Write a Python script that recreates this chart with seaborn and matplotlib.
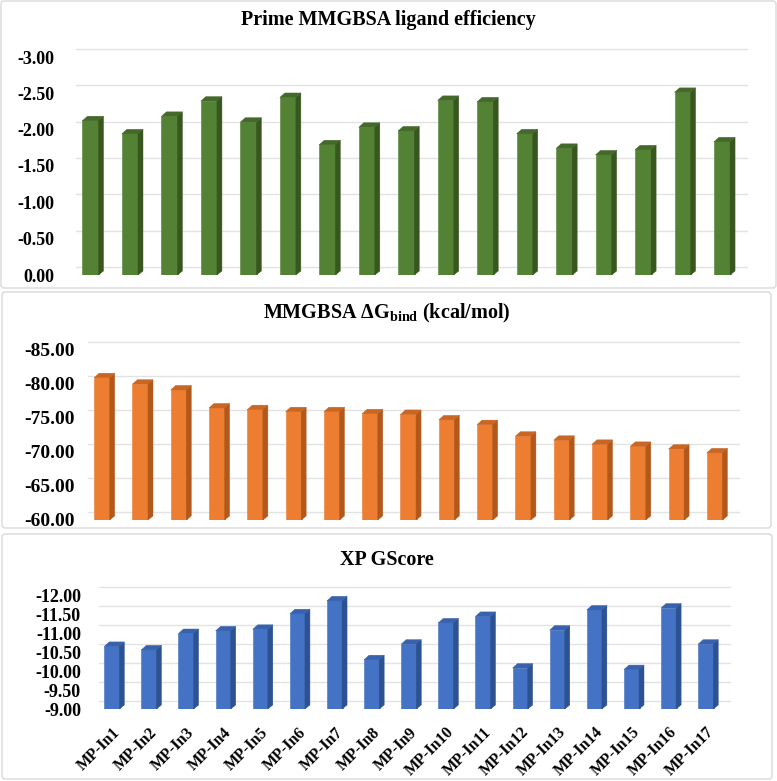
import matplotlib
matplotlib.use("Agg")
import numpy as np
import matplotlib.pyplot as plt
import matplotlib.transforms as mtransforms
from matplotlib.patches import Polygon, FancyBboxPatch
import seaborn as sns

# data
labels = ["MP-In1", "MP-In2", "MP-In3", "MP-In4", "MP-In5", "MP-In6", "MP-In7", "MP-In8", "MP-In9",
          "MP-In10", "MP-In11", "MP-In12", "MP-In13", "MP-In14", "MP-In15", "MP-In16", "MP-In17"]
ligand_eff = [-2.13, -1.95, -2.19, -2.40, -2.11, -2.45, -1.80, -2.04, -1.99,
              -2.41, -2.39, -1.95, -1.75, -1.66, -1.73, -2.52, -1.84]
dg_bind = [-81.0, -80.05, -79.2, -76.55, -76.3, -76.0, -76.0, -75.7, -75.6,
           -74.8, -74.1, -72.4, -71.8, -71.2, -70.9, -70.5, -69.95]
xp_gscore = [-10.66, -10.57, -11.0, -11.07, -11.11, -11.52, -11.86, -10.31, -10.72,
             -11.28, -11.45, -10.09, -11.09, -11.62, -10.05, -11.67, -10.72]

sns.set_style("white")
plt.rcParams["font.family"] = ["Liberation Serif", "DejaVu Serif"]
plt.rcParams["font.weight"] = "bold"
plt.rcParams["mathtext.fontset"] = "custom"
plt.rcParams["mathtext.rm"] = "Liberation Serif:bold"
plt.rcParams["mathtext.bf"] = "Liberation Serif:bold"

W, H = 777, 781
fig = plt.figure(figsize=(W / 100, H / 100), dpi=100)


def px_box(left, top, right, bottom):
    return [left / W, 1 - bottom / H, (right - left) / W, (bottom - top) / H]


def add_frame(left, top, right, bottom):
    fig.patches.append(FancyBboxPatch((left / W, 1 - bottom / H), (right - left) / W, (bottom - top) / H,
                                      boxstyle="round,pad=0,rounding_size=0.004", transform=fig.transFigure,
                                      fc="none", ec="#d9d9d9", lw=1.0, zorder=-1))


def panel(box, values, ylim, step, colors, title, title_xy, tick_size, pad, show_x):
    ax = fig.add_axes(px_box(*box))
    ax.set_facecolor("none")
    front, side, topc = colors
    sns.barplot(x=labels, y=values, ax=ax, color=front, saturation=1, width=0.42, zorder=3)
    ax.set_xlim(-0.5, len(labels) - 0.5)
    ax.set_ylim(*ylim)
    ticks = np.arange(ylim[0], ylim[1] - step / 2, -step)
    ax.set_yticks(ticks)
    ax.set_yticklabels([f"{t:.2f}" for t in ticks], fontsize=tick_size, fontweight="bold", color="black")
    ax.tick_params(axis="y", length=0, pad=pad)
    ax.tick_params(axis="x", length=0)
    sns.despine(ax=ax, left=True, bottom=True)
    ax.set_xlabel("")
    ax.set_ylabel("")

    # back-wall gridlines, shifted like the 3D chart
    grid_tr = ax.get_yaxis_transform() + mtransforms.ScaledTranslation(0.05, 0.08, fig.dpi_scale_trans)
    for t in ticks:
        ax.plot([0, 1], [t, t], transform=grid_tr, color="#e2e2e2", lw=1, zorder=1, clip_on=False)

    # depth faces of each bar
    dx, dy = 5, 4
    inv = ax.transData.inverted()
    for p in list(ax.patches):
        p.set_edgecolor(front)
        p.set_linewidth(0.4)
        xl = p.get_x()
        xr = xl + p.get_width()
        yt = p.get_y() + p.get_height()
        (pxl, pyt), (pxr, pyb) = ax.transData.transform([(xl, yt), (xr, ylim[0])])
        pxr -= 0.5
        side_pts = inv.transform([(pxr, pyb), (pxr + dx, pyb + dy), (pxr + dx, pyt + dy), (pxr, pyt)])
        top_pts = inv.transform([(pxl, pyt - 0.5), (pxl + dx, pyt + dy), (pxr + dx, pyt + dy), (pxr, pyt - 0.5)])
        ax.add_patch(Polygon(side_pts, closed=True, fc=side, ec=side, lw=0.3, zorder=3))
        ax.add_patch(Polygon(top_pts, closed=True, fc=topc, ec=topc, lw=0.3, zorder=3))

    if show_x:
        ax.set_xticks(range(len(labels)))
        ax.set_xticklabels(labels, rotation=45, ha="right", rotation_mode="anchor",
                           fontsize=11.5, fontweight="bold", color="black")
        ax.tick_params(axis="x", pad=11)
    else:
        ax.tick_params(axis="x", labelbottom=False)

    fig.text(title_xy[0] / W, 1 - title_xy[1] / H, title, ha="center", va="center",
             fontsize=14.5, fontweight="bold", color="black")
    return ax


add_frame(1, 1, 776, 288)
add_frame(2, 292, 771, 528)
add_frame(2, 534, 772, 779)

panel((71, 57, 742, 275), ligand_eff, (0.0, -3.0), 0.5,
      ("#548235", "#38571f", "#44692a"), "Prime MMGBSA ligand efficiency", (388, 20), 13, 12, False)
panel((83, 350, 734, 520), dg_bind, (-60.0, -85.0), 5.0,
      ("#ED7D31", "#b3581b", "#c96624"), r"MMGBSA ΔG$_{\mathbf{bind}}$ (kcal/mol)", (387, 313), 14, 6, False)
panel((93.5, 595, 724.5, 709), xp_gscore, (-9.0, -12.0), 0.5,
      ("#4472C4", "#2c5291", "#3862ad"), "XP GScore", (387, 560), 13, 9, True)

fig.savefig("out.png", dpi=100, facecolor="white")
